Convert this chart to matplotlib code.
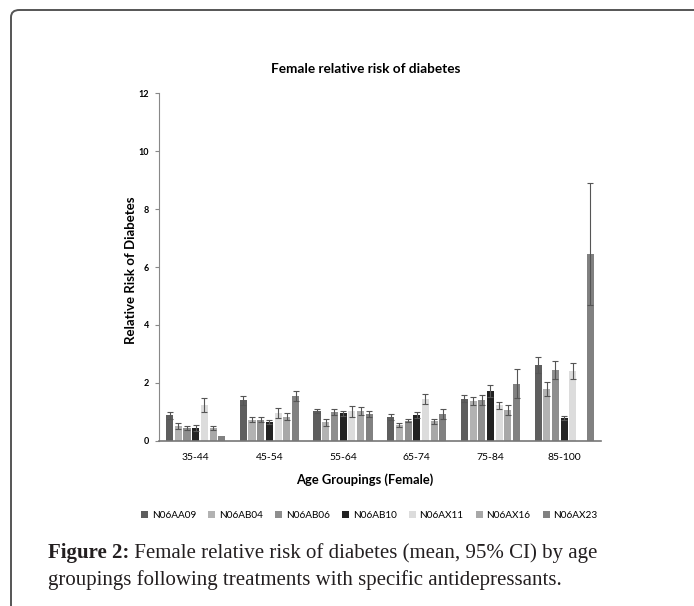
import numpy as np
import matplotlib
matplotlib.use("Agg")
import matplotlib.pyplot as plt
from matplotlib.patches import FancyBboxPatch

# DATA
age_groups = ["35-44", "45-54", "55-64", "65-74", "75-84", "85-100"]
drugs = ["N06AA09", "N06AB04", "N06AB06", "N06AB10", "N06AX11", "N06AX16", "N06AX23"]

n06aa09 = [0.88, 1.40, 1.04, 0.84, 1.46, 2.62]
n06ab04 = [0.52, 0.74, 0.64, 0.55, 1.38, 1.80]
n06ab06 = [0.46, 0.74, 1.00, 0.70, 1.42, 2.46]
n06ab10 = [0.46, 0.66, 0.95, 0.90, 1.72, 0.78]
n06ax11 = [1.24, 0.96, 1.02, 1.44, 1.24, 2.42]
n06ax16 = [0.46, 0.84, 1.03, 0.68, 1.06, np.nan]
n06ax23 = [0.18, 1.56, 0.92, 0.92, 1.98, 6.45]

# 95% CI, upper
n06aa09_hi = [1.01, 1.56, 1.12, 0.94, 1.59, 2.89]
n06ab04_hi = [0.61, 0.84, 0.75, 0.61, 1.51, 2.04]
n06ab06_hi = [0.53, 0.81, 1.09, 0.76, 1.59, 2.77]
n06ab10_hi = [0.56, 0.72, 1.05, 1.01, 1.93, 0.85]
n06ax11_hi = [1.47, 1.13, 1.21, 1.62, 1.36, 2.70]
n06ax16_hi = [0.53, 0.95, 1.16, 0.77, 1.24, np.nan]
n06ax23_hi = [0.18, 1.73, 1.02, 1.09, 2.47, 8.91]

# 95% CI, lower
n06aa09_lo = [0.75, 1.24, 0.96, 0.74, 1.33, 2.35]
n06ab04_lo = [0.43, 0.64, 0.53, 0.49, 1.25, 1.56]
n06ab06_lo = [0.39, 0.67, 0.91, 0.64, 1.25, 2.15]
n06ab10_lo = [0.36, 0.60, 0.85, 0.79, 1.51, 0.71]
n06ax11_lo = [1.01, 0.79, 0.83, 1.26, 1.12, 2.14]
n06ax16_lo = [0.39, 0.73, 0.90, 0.59, 0.88, np.nan]
n06ax23_lo = [0.18, 1.39, 0.82, 0.75, 1.49, 4.69]

colors = ["#5e5e5e", "#b2b2b2", "#8e8e8e", "#222222", "#dcdcdc", "#a8a8a8", "#818181"]

FONT = "Lato"


def main():
    series = [n06aa09, n06ab04, n06ab06, n06ab10, n06ax11, n06ax16, n06ax23]
    uppers = [n06aa09_hi, n06ab04_hi, n06ab06_hi, n06ab10_hi, n06ax11_hi, n06ax16_hi, n06ax23_hi]
    lowers = [n06aa09_lo, n06ab04_lo, n06ab06_lo, n06ab10_lo, n06ax11_lo, n06ax16_lo, n06ax23_lo]

    fig = plt.figure(figsize=(6.94, 6.06), dpi=100)
    ax = fig.add_axes([0.229, 0.2723, 0.637, 0.5742])

    x = np.arange(len(age_groups))
    pitch = 0.118
    width = 0.097
    for j in range(len(drugs)):
        vals = np.array(series[j], dtype=float)
        up = np.array(uppers[j], dtype=float) - vals
        dn = vals - np.array(lowers[j], dtype=float)
        pos = x + (j - 3) * pitch
        ax.bar(pos, vals, width=width, color=colors[j], label=drugs[j], zorder=2)
        ok = up > 0.001
        ax.errorbar(pos[ok], vals[ok], yerr=[dn[ok], up[ok]], fmt="none",
                    ecolor="#555555", elinewidth=0.8, capsize=2.3,
                    capthick=0.8, zorder=3)

    ax.set_xlim(-0.5, len(age_groups) - 0.5)
    ax.set_ylim(0, 12)
    ax.set_yticks(np.arange(0, 13, 2))
    ax.set_xticks(x)
    ax.set_xticklabels(age_groups, fontsize=7.5, family=FONT)
    for lab in ax.get_yticklabels():
        lab.set_fontsize(6.5)
        lab.set_fontweight("bold")
        lab.set_family(FONT)
    ax.tick_params(axis="y", direction="out", length=3, color="#888888", pad=4)
    ax.tick_params(axis="x", length=0, pad=9)

    for side in ["top", "right"]:
        ax.spines[side].set_visible(False)
    ax.spines["left"].set_color("#888888")
    ax.spines["bottom"].set_color("#777777")
    ax.spines["bottom"].set_linewidth(1.2)

    ax.set_xlabel("Age Groupings (Female)", fontsize=9.3, fontweight="bold",
                  family=FONT)
    ax.xaxis.set_label_coords(0.466, -0.092)
    ax.set_ylabel("Relative Risk of Diabetes", fontsize=9.5, fontweight="bold",
                  family=FONT)
    ax.yaxis.set_label_coords(-0.05, 0.49)

    fig.text(0.527, 1 - 69 / 606, "Female relative risk of diabetes", fontsize=9.8,
             fontweight="bold", family=FONT, ha="center", va="center")

    fig.legend(loc="center", bbox_to_anchor=(0.532, 0.149), ncol=7, frameon=False,
               prop={"family": FONT, "size": 7.2}, handlelength=0.7,
               handleheight=0.7, handletextpad=0.4, columnspacing=1.2)

    # frame around figure
    frame = FancyBboxPatch((11 / 694, -0.1), 1.2, 1 - 10 / 606 + 0.1,
                           boxstyle="round,pad=0,rounding_size=0.012",
                           transform=fig.transFigure, facecolor="none",
                           edgecolor="#555555", linewidth=1.4, clip_on=False)
    fig.patches.append(frame)

    # caption
    cap_color = "#231f20"
    x0 = 48 / 694
    t = fig.text(x0, 1 - 553 / 606, "Figure 2:", fontsize=15, fontweight="bold",
                 family="Liberation Serif", va="center", color=cap_color)
    fig.canvas.draw()
    bb = t.get_window_extent(renderer=fig.canvas.get_renderer())
    x1 = bb.x1 / fig.bbox.width
    fig.text(x1, 1 - 553 / 606,
             " Female relative risk of diabetes (mean, 95% CI) by age",
             fontsize=15, family="Liberation Serif", va="center", color=cap_color)
    fig.text(x0, 1 - 580 / 606,
             "groupings following treatments with specific antidepressants.",
             fontsize=15, family="Liberation Serif", va="center", color=cap_color)

    fig.savefig("out.png", dpi=100)


if __name__ == "__main__":
    main()
